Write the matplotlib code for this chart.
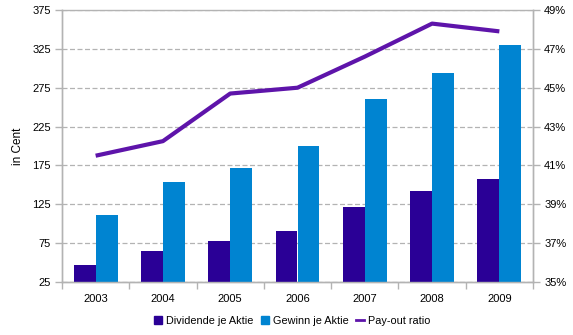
import numpy as np
import matplotlib
matplotlib.use('agg')
import matplotlib.pyplot as plt
from matplotlib.lines import Line2D
from matplotlib.patches import Patch
from matplotlib.ticker import FuncFormatter

years = ['2003', '2004', '2005', '2006', '2007', '2008', '2009']
dividende = [47, 65, 78, 91, 121, 142, 158]
gewinn = [111, 154, 172, 200, 261, 294, 330]
payout = [41.5, 42.25, 44.7, 45.0, 46.6, 48.3, 47.9]

c_div = '#2a0096'
c_gew = '#0084d1'
c_pay = '#5e14aa'
grey = '#b3b3b3'

plt.rcParams['font.family'] = ['Liberation Sans', 'DejaVu Sans']
plt.rcParams['font.size'] = 8

fig = plt.figure(figsize=(5.73, 3.35), dpi=100)
ax = fig.add_axes([62 / 573, 1 - 282 / 335, 471 / 573, 272 / 335])

x = np.arange(len(years))
w = 0.325
ax.bar(x - w / 2, np.array(dividende) - 25, w, bottom=25, color=c_div, zorder=3)
ax.bar(x + w / 2, np.array(gewinn) - 25, w, bottom=25, color=c_gew, zorder=3)

ax.set_xlim(-0.5, len(years) - 0.5)
ax.set_ylim(25, 375)
ax.set_yticks(np.arange(25, 376, 50))
ax.yaxis.grid(True, linestyle=(0, (4, 2)), color=grey, linewidth=0.9, zorder=0)
ax.set_xticks(x)
ax.set_xticklabels(years)
ax.set_xticks(np.arange(-0.5, len(years)), minor=True)
ax.tick_params(axis='x', which='major', length=0, pad=9)
ax.tick_params(axis='x', which='minor', length=5, color=grey, width=1)
ax.tick_params(axis='y', length=5, color=grey, width=1, pad=3)
for s in ax.spines.values():
    s.set_color(grey)
    s.set_linewidth(1)
ax.set_ylabel('in Cent', fontsize=8.5, labelpad=6)

# payout ratio on the secondary axis
ax2 = ax.twinx()
ax2.plot(x, payout, color=c_pay, linewidth=3, solid_capstyle='butt', zorder=4)
ax2.set_ylim(35, 49)
ax2.set_yticks(np.arange(35, 50, 2))
ax2.yaxis.set_major_formatter(FuncFormatter(lambda v, p: '%d%%' % v))
ax2.tick_params(axis='y', length=5, color=grey, width=1, pad=3)
for s in ax2.spines.values():
    s.set_color(grey)
    s.set_linewidth(1)
ax2.spines['top'].set_visible(False)

handles = [Patch(color=c_div), Patch(color=c_gew),
           Line2D([0], [0], color=c_pay, linewidth=2)]
labels = ['Dividende je Aktie', 'Gewinn je Aktie', 'Pay-out ratio']
fig.legend(handles, labels, loc='center', bbox_to_anchor=(0.51, 0.042),
           ncol=3, frameon=False, fontsize=7.8, handlelength=0.75,
           handleheight=0.75, handletextpad=0.35, columnspacing=0.7)

fig.savefig('out.png', dpi=100)
